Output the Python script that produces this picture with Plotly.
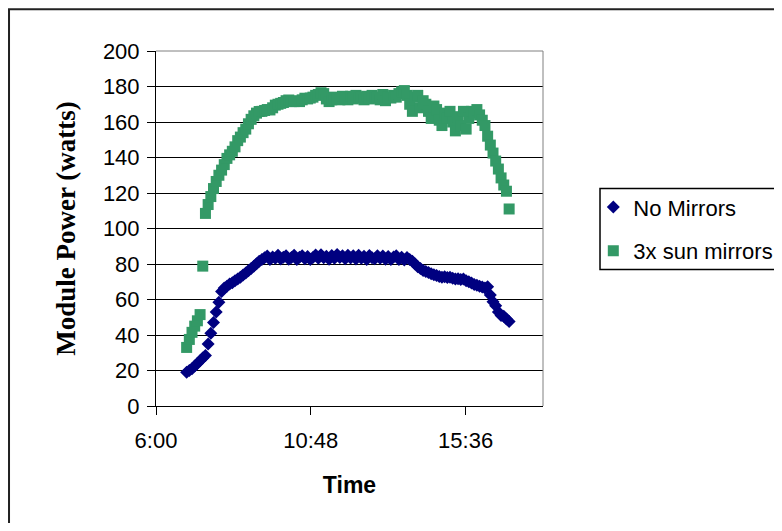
import plotly.graph_objects as go

# Sample times (HH:MM), shared by both series
times = [
    "06:57",
    "07:02", "07:07", "07:12", "07:17", "07:22", "07:27", "07:32", "07:37", "07:42", "07:47", "07:52", "07:57",
    "08:02", "08:07", "08:12", "08:17", "08:22", "08:27", "08:32", "08:37", "08:42", "08:47", "08:52", "08:57",
    "09:02", "09:07", "09:12", "09:17", "09:22", "09:27", "09:32", "09:37", "09:42", "09:47", "09:52", "09:57",
    "10:02", "10:07", "10:12", "10:17", "10:22", "10:27", "10:32", "10:37", "10:42", "10:47", "10:52", "10:57",
    "11:02", "11:07", "11:12", "11:17", "11:22", "11:27", "11:32", "11:37", "11:42", "11:47", "11:52", "11:57",
    "12:02", "12:07", "12:12", "12:17", "12:22", "12:27", "12:32", "12:37", "12:42", "12:47", "12:52", "12:57",
    "13:02", "13:07", "13:12", "13:17", "13:22", "13:27", "13:32", "13:37", "13:42", "13:47", "13:52", "13:57",
    "14:02", "14:07", "14:12", "14:17", "14:22", "14:27", "14:32", "14:37", "14:42", "14:47", "14:52", "14:57",
    "15:02", "15:07", "15:12", "15:17", "15:22", "15:27", "15:32", "15:37", "15:42", "15:47", "15:52", "15:57",
    "16:02", "16:07", "16:12", "16:17", "16:22", "16:27", "16:32", "16:37", "16:42", "16:47", "16:52", "16:57",
]

no_mirrors = [
    19,
    20, 21, 22.5, 24, 25.5, 27, 28.5, 35, 41, 47, 53, 58.5,
    64.5, 66.5, 67.5, 68.8, 69.5, 70.5, 71.5, 72.5, 73.8, 75, 76.2, 77.5,
    78.8, 80.2, 81.5, 82.5, 83.5, 84.5, 82.6, 84, 83.2, 85, 82.8, 83.8,
    84.6, 82.7, 83.6, 85, 82.5, 83.8, 84.7, 83, 84.2, 82.6, 83.6, 85.1,
    83.2, 85.2, 83.5, 84.3, 82.7, 84.8, 83.3, 85.3, 83.6, 84.6, 82.9, 84.9,
    83.4, 84.6, 82.8, 84.9, 83.3, 84.4, 82.6, 84.8, 83.5, 82.9, 84.7, 83.2,
    84.5, 82.7, 84.2, 82.5, 83.9, 84.6, 82.6, 83.8, 82.3, 83.6, 82.5, 81.5,
    80, 78.5, 77.5, 76.3, 75.8, 75.2, 74.5, 74, 73.5, 73, 72.6, 72.8,
    72.4, 72.6, 72, 71.5, 71.7, 71.2, 71.5, 70.5, 70, 69.3, 68.5, 68,
    67.5, 67, 66.5, 67.2, 62.5, 58.7, 56.5, 53, 51, 50.5, 49, 47.6,
]

sun_mirrors = [
    33,
    37.5, 41.5, 45, 48, 51.5, 78.8, 108.5, 113.5, 118, 122.5, 126.5, 130,
    132.9, 136, 139.5, 141.5, 143.5, 146, 149.5, 151.5, 154, 156, 159, 161.5,
    163.5, 165, 165.9, 166, 166.5, 167, 166.8, 168, 169.5, 170, 170.5, 171,
    172, 172.4, 171.5, 171.5, 172, 171.5, 172.5, 173.4, 173, 173.5, 174, 175,
    175.5, 176.5, 176, 173, 171.5, 172.5, 174, 173, 172.5, 174.5, 173.5, 172.5,
    174.5, 173, 175, 173.5, 174, 172.5, 174.5, 173, 175, 173.5, 174, 172.5,
    175.5, 172, 174, 173.5, 175, 174, 176, 177, 177.7, 175, 170, 166,
    174, 175, 168, 172, 170, 166, 162, 169, 167, 161, 158, 165,
    162, 166, 160, 155, 163, 158, 166, 156, 162, 166, 165, 167,
    164, 161, 158, 152, 147, 142.5, 138, 133.5, 128.5, 124.5, 121, 111,
]

tick_times = ["06:00", "10:48", "15:36"]
tick_labels = ["6:00", "10:48", "15:36"]
x_range = ["06:00", "18:00"]

DAY = "2000-01-01 "
xs = [DAY + t for t in times]

SANS = "Liberation Sans, Arial, sans-serif"
SERIF = "Liberation Serif, Times New Roman, serif"

fig = go.Figure()
fig.add_trace(go.Scatter(
    x=xs, y=no_mirrors, mode="markers", name="No Mirrors",
    legendgroup="a",
    marker=dict(symbol="diamond", size=10, color="#000080", line=dict(width=0)),
))
fig.add_trace(go.Scatter(
    x=xs, y=sun_mirrors, mode="markers", name="3x sun mirrors",
    legendgroup="b",
    marker=dict(symbol="square", size=11, color="#339966", line=dict(width=0)),
))

fig.update_layout(
    width=774, height=515,
    margin=dict(l=148, r=239, t=43, b=117, autoexpand=False),
    paper_bgcolor="white", plot_bgcolor="white",
    font=dict(family=SANS, size=22, color="black"),
    showlegend=True,
    legend=dict(
        x=1.13, y=0.619, xanchor="left", yanchor="top",
        bgcolor="rgba(0,0,0,0)", borderwidth=0,
        traceorder="grouped", tracegroupgap=12,
        font=dict(family=SANS, size=22, color="black"),
        itemsizing="trace",
    ),
    xaxis=dict(
        type="date",
        range=[DAY + x_range[0], DAY + x_range[1]],
        tickvals=[DAY + t for t in tick_times],
        ticktext=tick_labels,
        showgrid=False, zeroline=False,
        showline=True, linecolor="black", linewidth=1,
        ticks="outside", ticklen=8, tickcolor="black", tickwidth=1,
        ticklabelstandoff=7,
        tickfont=dict(family=SANS, size=22, color="black"),
        title=dict(text="Time", standoff=24,
                   font=dict(family=SANS, size=23, color="black", weight="bold")),
    ),
    yaxis=dict(
        range=[0, 200], dtick=20,
        showgrid=True, gridcolor="black", gridwidth=1,
        zeroline=False,
        showline=True, linecolor="black", linewidth=1,
        ticks="outside", ticklen=8, tickcolor="black", tickwidth=1,
        ticklabelstandoff=3,
        tickfont=dict(family=SANS, size=22, color="black"),
        title=dict(text="Module Power (watts)", standoff=19,
                   font=dict(family=SERIF, size=27, color="black", weight="bold")),
    ),
    shapes=[
        # plot-area border (top and right, gray)
        dict(type="line", xref="paper", yref="paper", x0=0, x1=1, y0=1, y1=1,
             line=dict(color="#808080", width=1), layer="above"),
        dict(type="line", xref="paper", yref="paper", x0=1, x1=1, y0=0, y1=1,
             line=dict(color="#808080", width=1), layer="above"),
        # legend box
        dict(type="rect", xref="paper", yref="paper",
             x0=1.1473, x1=1.6124, y0=0.3842, y1=0.6124,
             line=dict(color="black", width=1.5)),
        # outer chart frame
        dict(type="rect", xref="paper", yref="paper",
             x0=-0.3798, x1=1.75, y0=-0.5, y1=1.1175,
             line=dict(color="#222222", width=2)),
    ],
)

fig.write_html("out.html")
